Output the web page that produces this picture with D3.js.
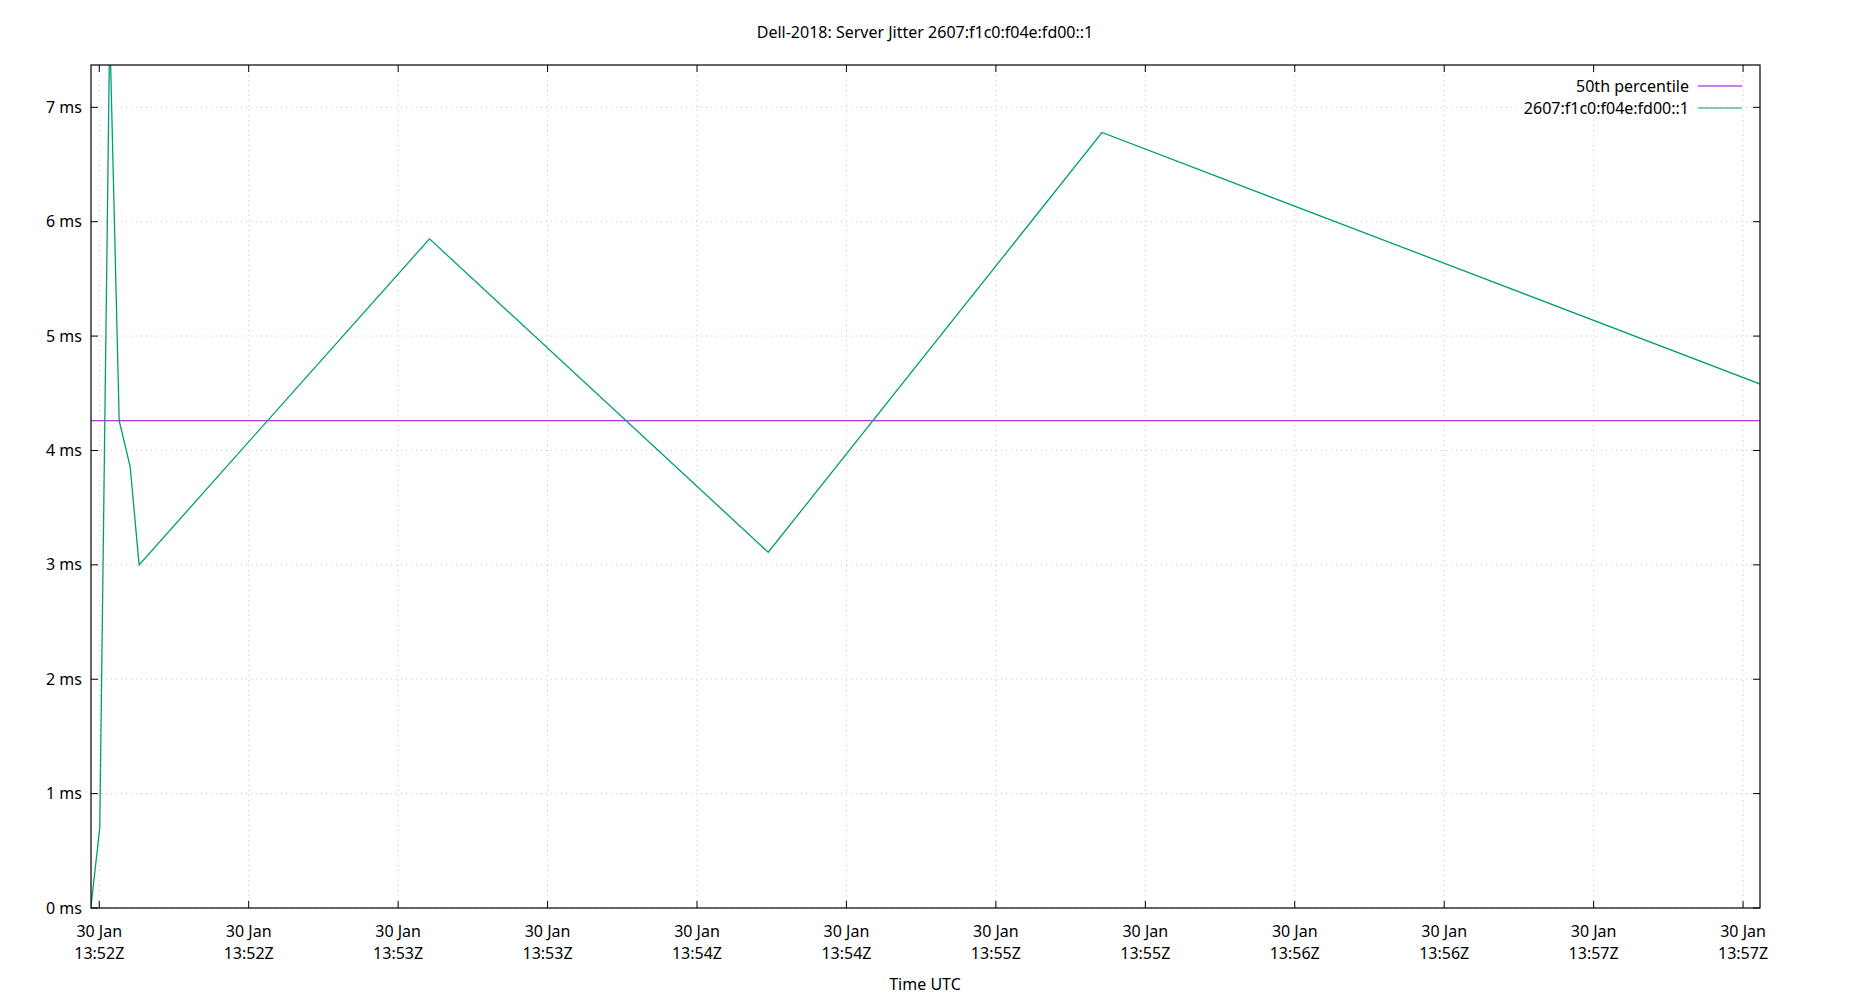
<!DOCTYPE html>
<html>
<head>
<meta charset="utf-8">
<script src="https://cdn.jsdelivr.net/npm/d3@7"></script>
<style>
  body { margin: 0; background: #fff; }
  text { font-family: "Noto Sans", sans-serif; font-size: 16px; fill: #000; }
</style>
</head>
<body>
<svg id="chart" width="1850" height="1000"></svg>
<script>
// time values are seconds after 30 Jan 13:52:00Z
const jitterTimes = [-1.7, 0.1, 2.1, 4.0, 6.2, 8.0, 66.3, 134.3, 201.3, 333.5];
const jitterMs = [0, 0.7, 7.7, 4.26, 3.86, 3.0, 5.85, 3.11, 6.78, 4.58];
const median = 4.26;
const xTickSecs = [0, 30, 60, 90, 120, 150, 180, 210, 240, 270, 300, 330];
const xTickLabels = ['13:52Z', '13:52Z', '13:53Z', '13:53Z', '13:54Z', '13:54Z', '13:55Z', '13:55Z', '13:56Z', '13:56Z', '13:57Z', '13:57Z'];
const yTicks = [0, 1, 2, 3, 4, 5, 6, 7];

const svg = d3.select('#chart');
const m = { left: 91, right: 1760, top: 65, bottom: 908 };

const x = d3.scaleLinear().domain([-1.66, 333.4]).range([m.left, m.right]);
const y = d3.scaleLinear().domain([0, 7.37]).range([m.bottom, m.top]);

svg.append('clipPath').attr('id', 'clip').append('rect')
  .attr('x', m.left).attr('y', m.top)
  .attr('width', m.right - m.left).attr('height', m.bottom - m.top);

// grid
const grid = svg.append('g').attr('stroke', '#c8c8c8').attr('stroke-dasharray', '1,4').attr('stroke-width', 1);
grid.selectAll('.gx').data(xTickSecs).enter().append('line')
  .attr('x1', d => x(d)).attr('x2', d => x(d)).attr('y1', m.top).attr('y2', m.bottom);
grid.selectAll('.gy').data(yTicks).enter().append('line')
  .attr('y1', d => y(d)).attr('y2', d => y(d)).attr('x1', m.left).attr('x2', m.right);

// ticks (inward, both sides like gnuplot)
const ticks = svg.append('g').attr('stroke', '#000');
xTickSecs.forEach(d => {
  ticks.append('line').attr('x1', x(d)).attr('x2', x(d)).attr('y1', m.bottom).attr('y2', m.bottom - 7);
  ticks.append('line').attr('x1', x(d)).attr('x2', x(d)).attr('y1', m.top).attr('y2', m.top + 7);
});
yTicks.forEach(d => {
  ticks.append('line').attr('y1', y(d)).attr('y2', y(d)).attr('x1', m.left).attr('x2', m.left + 7);
  ticks.append('line').attr('y1', y(d)).attr('y2', y(d)).attr('x1', m.right).attr('x2', m.right - 7);
});

svg.selectAll('.yl').data(yTicks).enter().append('text')
  .attr('x', m.left - 9).attr('y', d => y(d)).attr('dy', '0.35em')
  .attr('text-anchor', 'end').text(d => d + ' ms');

const xl = svg.selectAll('.xl').data(xTickSecs).enter().append('text')
  .attr('text-anchor', 'middle').attr('x', d => x(d)).attr('y', m.bottom + 29);
xl.append('tspan').attr('x', d => x(d)).text('30 Jan');
xl.append('tspan').attr('x', d => x(d)).attr('dy', 22).text((d, i) => xTickLabels[i]);

// series
const plot = svg.append('g').attr('clip-path', 'url(#clip)');
plot.append('line').attr('x1', m.left).attr('x2', m.right)
  .attr('y1', y(median)).attr('y2', y(median))
  .attr('stroke', '#9400d3').attr('stroke-width', 1.2);
const pts = jitterTimes.map((t, i) => [t, jitterMs[i]]);
plot.append('path').datum(pts)
  .attr('d', d3.line().x(d => x(d[0])).y(d => y(d[1])))
  .attr('fill', 'none').attr('stroke', '#009e73').attr('stroke-width', 1.3);

// border
svg.append('rect').attr('x', m.left).attr('y', m.top)
  .attr('width', m.right - m.left).attr('height', m.bottom - m.top)
  .attr('fill', 'none').attr('stroke', '#000').attr('stroke-width', 1.2);

// legend
const legend = [['50th percentile', '#9400d3'], ['2607:f1c0:f04e:fd00::1', '#009e73']];
legend.forEach((l, i) => {
  const ly = 86 + i * 22;
  svg.append('text').attr('x', 1689).attr('y', ly).attr('dy', '0.35em').attr('text-anchor', 'end').text(l[0]);
  svg.append('line').attr('x1', 1698).attr('x2', 1742).attr('y1', ly).attr('y2', ly)
    .attr('stroke', l[1]).attr('stroke-width', 1.2);
});

svg.append('text').attr('x', 925).attr('y', 38).attr('text-anchor', 'middle')
  .text('Dell-2018: Server Jitter 2607:f1c0:f04e:fd00::1');
svg.append('text').attr('x', 925).attr('y', 990).attr('text-anchor', 'middle').text('Time UTC');
</script>
</body>
</html>
